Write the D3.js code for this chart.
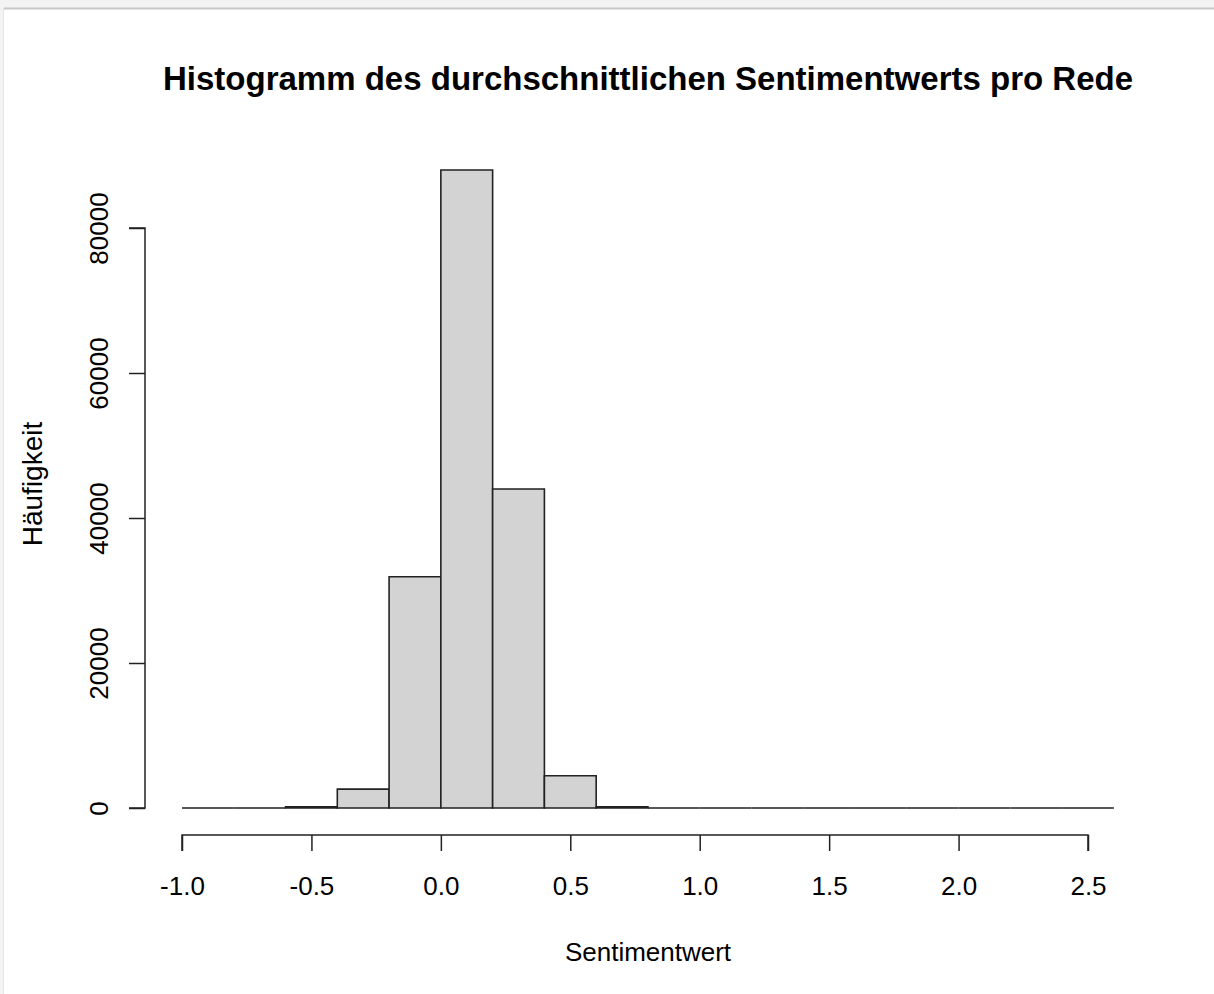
<!DOCTYPE html>
<html>
<head>
<meta charset="utf-8">
<script src="https://cdn.jsdelivr.net/npm/d3@7"></script>
<style>
  html, body { margin: 0; padding: 0; background: #ffffff; }
  svg { display: block; }
  text { font-family: "Liberation Sans", Arial, sans-serif; fill: #000; }
</style>
</head>
<body>
<svg id="chart" width="1214" height="994"></svg>
<script>
// Histogram bins (width 0.2) and counts
const binStarts = [-1.0, -0.8, -0.6, -0.4, -0.2, 0.0, 0.2, 0.4, 0.6, 0.8, 1.0, 1.2, 1.4, 1.6, 1.8, 2.0, 2.2, 2.4];
const binWidth = 0.2;
const counts = [0, 0, 150, 2600, 31900, 88000, 44000, 4450, 150, 0, 0, 0, 0, 0, 0, 0, 0, 0];
const xTicks = [-1.0, -0.5, 0.0, 0.5, 1.0, 1.5, 2.0, 2.5];
const yTicks = [0, 20000, 40000, 60000, 80000];

const titleText = "Histogramm des durchschnittlichen Sentimentwerts pro Rede";
const xLabel = "Sentimentwert";
const yLabel = "Häufigkeit";

const svg = d3.select("#chart");

// panel frame
svg.append("rect").attr("x", 0).attr("y", 0).attr("width", 1214).attr("height", 994).attr("fill", "#f3f3f3");
svg.append("rect").attr("x", 4).attr("y", 8).attr("width", 1210).attr("height", 986).attr("fill", "#ffffff");
svg.append("line").attr("x1", 4).attr("x2", 1214).attr("y1", 8.5).attr("y2", 8.5).attr("stroke", "#c8c8c8").attr("stroke-width", 2);
svg.append("line").attr("x1", 3.5).attr("x2", 3.5).attr("y1", 8).attr("y2", 994).attr("stroke", "#e4e4e4").attr("stroke-width", 1);

const x = d3.scaleLinear().domain([-1.0, 2.5]).range([182, 1088]);
const y = d3.scaleLinear().domain([0, 80000]).range([808, 228]);

// bars drawn as closed paths so that empty bins still show as a baseline segment
svg.append("g").selectAll("path")
  .data(binStarts.map((s, i) => ({ s, c: counts[i] })))
  .join("path")
  .attr("d", d => {
    const x0 = x(d.s), x1 = x(d.s + binWidth), y0 = y(0), y1 = y(d.c);
    return `M${x0},${y0}V${y1}H${x1}V${y0}Z`;
  })
  .attr("fill", "#d3d3d3")
  .attr("stroke", "#222")
  .attr("stroke-width", 1.6);

const hyphenFmt = d => d3.format(".1f")(d).replace("\u2212", "-");

// x axis
const xAxis = svg.append("g").attr("transform", "translate(0,835)")
  .call(d3.axisBottom(x).tickValues(xTicks).tickFormat(hyphenFmt).tickSize(16).tickPadding(0));
xAxis.select(".domain").attr("stroke", "#222").attr("stroke-width", 1.5).attr("d", `M${x(-1.0)},16V0H${x(2.5)}V16`);
xAxis.selectAll(".tick line").attr("stroke", "#222").attr("stroke-width", 1.5);
xAxis.selectAll(".tick text").attr("font-size", 26).attr("fill", "#222")
  .attr("font-family", "'Liberation Sans', Arial, sans-serif")
  .attr("y", 60).attr("dy", null)
  .attr("transform", "translate(0,0)");

// y axis
const yAxis = svg.append("g").attr("transform", "translate(145,0)")
  .call(d3.axisLeft(y).tickValues(yTicks).tickFormat(d3.format("d")).tickSize(16).tickPadding(0));
yAxis.select(".domain").attr("stroke", "#222").attr("stroke-width", 1.5).attr("d", `M-16,${y(80000)}H0V${y(0)}H-16`);
yAxis.selectAll(".tick line").attr("stroke", "#222").attr("stroke-width", 1.5);
yAxis.selectAll(".tick text")
  .attr("font-size", 26).attr("fill", "#222")
  .attr("font-family", "'Liberation Sans', Arial, sans-serif")
  .attr("x", null).attr("dy", null)
  .attr("text-anchor", "middle")
  .attr("transform", "translate(-37,0) rotate(-90)")
  .attr("y", 0);

// title
svg.append("text").attr("x", 648).attr("y", 90).attr("text-anchor", "middle")
  .attr("font-size", 33).attr("font-weight", "bold").text(titleText);

// axis labels
svg.append("text").attr("x", 648).attr("y", 961).attr("text-anchor", "middle")
  .attr("font-size", 26).attr("fill", "#222").text(xLabel);
svg.append("text").attr("transform", "translate(42,484) rotate(-90)").attr("text-anchor", "middle")
  .attr("font-size", 28).attr("fill", "#222").text(yLabel);
</script>
</body>
</html>
